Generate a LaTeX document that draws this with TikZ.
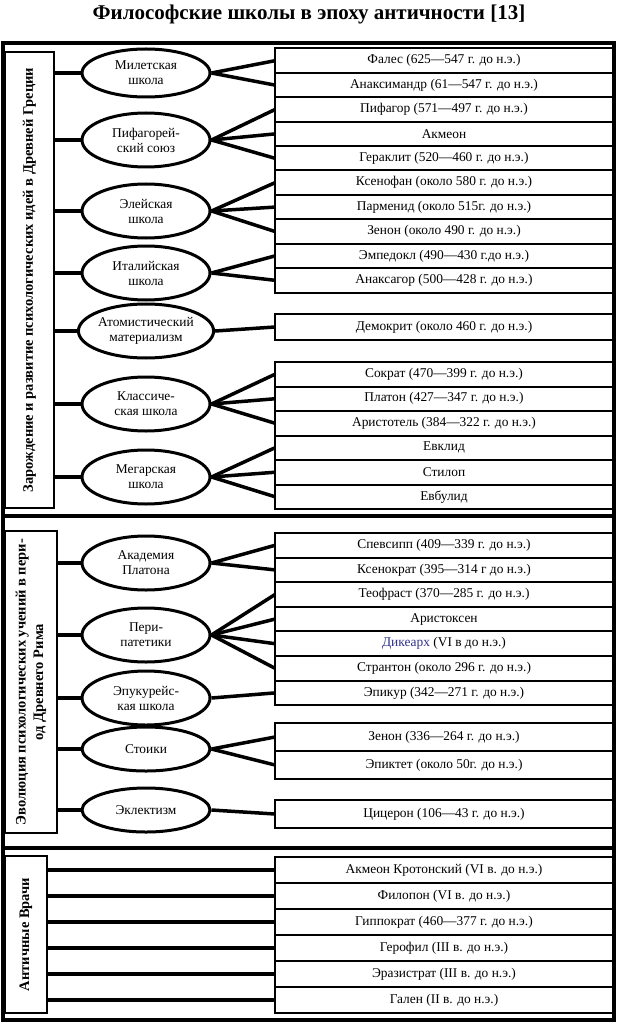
\documentclass[tikz,border=0pt]{standalone}
\usepackage{fontspec}
\setmainfont{Liberation Serif}
\usetikzlibrary{positioning,shapes.geometric}
\definecolor{dikblue}{RGB}{48,48,140}

\begin{document}
\begin{tikzpicture}[
  x=1pt,y=-1pt,
  font=\fontsize{13.4}{15}\selectfont,
  tableframe/.style={draw=black,line width=3.5pt},
  side/.style={draw=black,line width=2pt,rotate=90,align=center,font=\bfseries\fontsize{14.5}{17.5}\selectfont,inner sep=2pt,outer sep=0pt},
  school/.style={draw=black,ellipse,line width=3pt,minimum width=128pt,minimum height=54pt,align=center,inner sep=0pt},
  person/.style={draw=black,line width=2pt,minimum width=338pt,minimum height=24.4pt,inner sep=0pt,outer sep=0pt},
  link/.style={line width=3.5pt}
]
\useasboundingbox (0,0) rectangle (618,1024);
\node[font=\bfseries\fontsize{21}{25}\selectfont] (title) at (309,14) {Философские школы в эпоху античности [13]};
\draw[tableframe] (3,43) rectangle (614,1020);
\draw[tableframe] (3,516) -- (614,516);
\draw[tableframe] (3,848) -- (614,848);

\node[side,minimum width=456pt,minimum height=49pt] (greece) at (29.5,280) {Зарождение и развитие психологических идей в Древней Греции};
\node[side,minimum width=302pt,minimum height=52pt] (rome) at (31,682) {Эволюция психологических учений в пери-\\од Древнего Рима};
\node[side,minimum width=157pt,minimum height=42pt] (doctors) at (26,934.5) {Античные Врачи};

\node[school,minimum height=48pt] (milet) at (146,73) {Милетская\\школа};
\node[school] (pyth) at (146,140) {Пифагорей-\\ский союз};
\node[school] (elea) at (146,211) {Элейская\\школа};
\node[school] (ital) at (146,273) {Италийская\\школа};
\node[school] (atom) at (146,331) {Атомистический\\материализм};
\node[school] (klass) at (146,404) {Классиче-\\ская школа};
\node[school] (megar) at (146,477) {Мегарская\\школа};
\node[school] (acad) at (146,563) {Академия\\Платона};
\node[school] (peri) at (146,635) {Пери-\\патетики};
\node[school] (epic) at (146,698) {Эпукурейс-\\кая школа};
\node[school,minimum height=44pt] (stoic) at (146,749) {Стоики};
\node[school,minimum height=44pt] (eklek) at (146,810) {Эклектизм};

\node[person,anchor=north west] (fales) at (275,48.5) {Фалес (625—547 г. до н.э.)};
\node[person,below=0pt of fales] (anaximandr) {Анаксимандр (61—547 г. до н.э.)};
\node[person,below=0pt of anaximandr] (pifagor) {Пифагор (571—497 г. до н.э.)};
\node[person,below=0pt of pifagor] (akmeon) {Акмеон};
\node[person,below=0pt of akmeon] (geraklit) {Гераклит (520—460 г. до н.э.)};
\node[person,below=0pt of geraklit] (ksenofan) {Ксенофан (около 580 г. до н.э.)};
\node[person,below=0pt of ksenofan] (parmenid) {Парменид (около 515г. до н.э.)};
\node[person,below=0pt of parmenid] (zenon) {Зенон (около 490 г. до н.э.)};
\node[person,below=0pt of zenon] (empedokl) {Эмпедокл (490—430 г.до н.э.)};
\node[person,below=0pt of empedokl] (anaksagor) {Анаксагор (500—428 г. до н.э.)};

\node[person,anchor=north west,minimum height=26pt] (demokrit) at (275,314) {Демокрит (около 460 г. до н.э.)};

\node[person,anchor=north west,minimum height=24.5pt] (sokrat) at (275,362) {Сократ (470—399 г. до н.э.)};
\node[person,minimum height=24.5pt,below=0pt of sokrat] (platon) {Платон (427—347 г. до н.э.)};
\node[person,minimum height=24.5pt,below=0pt of platon] (aristotel) {Аристотель (384—322 г. до н.э.)};
\node[person,minimum height=24.5pt,below=0pt of aristotel] (evklid) {Евклид};
\node[person,minimum height=24.5pt,below=0pt of evklid] (stilop) {Стилоп};
\node[person,minimum height=24.5pt,below=0pt of stilop] (evbulid) {Евбулид};

\node[person,anchor=north west,minimum height=24.6pt] (spevsipp) at (275,533) {Спевсипп (409—339 г. до н.э.)};
\node[person,minimum height=24.6pt,below=0pt of spevsipp] (ksenokrat) {Ксенократ (395—314 г до н.э.)};
\node[person,minimum height=24.6pt,below=0pt of ksenokrat] (teofrast) {Теофраст (370—285 г. до н.э.)};
\node[person,minimum height=24.6pt,below=0pt of teofrast] (aristoksen) {Аристоксен};
\node[person,minimum height=24.6pt,below=0pt of aristoksen] (dikearh) {\textcolor{dikblue}{Дикеарх} (VI в до н.э.)};
\node[person,minimum height=24.6pt,below=0pt of dikearh] (stranton) {Странтон (около 296 г. до н.э.)};
\node[person,minimum height=24.6pt,below=0pt of stranton] (epikur) {Эпикур (342—271 г. до н.э.)};

\node[person,anchor=north west,minimum height=28pt] (zenonst) at (275,723) {Зенон (336—264 г. до н.э.)};
\node[person,minimum height=28pt,below=0pt of zenonst] (epiktet) {Эпиктет (около 50г. до н.э.)};

\node[person,anchor=north west,minimum height=28pt] (ciceron) at (275,800) {Цицерон (106—43 г. до н.э.)};

\node[person,anchor=north west,minimum height=26pt] (akmeonkr) at (275,857) {Акмеон Кротонский (VI в. до н.э.)};
\node[person,minimum height=26pt,below=0pt of akmeonkr] (filopon) {Филопон (VI в. до н.э.)};
\node[person,minimum height=26pt,below=0pt of filopon] (gippokrat) {Гиппократ (460—377 г. до н.э.)};
\node[person,minimum height=26pt,below=0pt of gippokrat] (gerofil) {Герофил (III в. до н.э.)};
\node[person,minimum height=26pt,below=0pt of gerofil] (erazistrat) {Эразистрат (III в. до н.э.)};
\node[person,minimum height=26pt,below=0pt of erazistrat] (galen) {Гален (II в. до н.э.)};

\draw[link] (milet.west -| greece.south) -- (milet.west);
\draw[link] (pyth.west -| greece.south) -- (pyth.west);
\draw[link] (elea.west -| greece.south) -- (elea.west);
\draw[link] (ital.west -| greece.south) -- (ital.west);
\draw[link] (atom.west -| greece.south) -- (atom.west);
\draw[link] (klass.west -| greece.south) -- (klass.west);
\draw[link] (megar.west -| greece.south) -- (megar.west);
\draw[link] (acad.west -| rome.south) -- (acad.west);
\draw[link] (peri.west -| rome.south) -- (peri.west);
\draw[link] (epic.west -| rome.south) -- (epic.west);
\draw[link] (stoic.west -| rome.south) -- (stoic.west);
\draw[link] (eklek.west -| rome.south) -- (eklek.west);

\draw[link] (milet.east) -- (fales.west);
\draw[link] (milet.east) -- (anaximandr.west);
\draw[link] (pyth.east) -- (pifagor.west);
\draw[link] (pyth.east) -- (akmeon.west);
\draw[link] (pyth.east) -- (geraklit.west);
\draw[link] (elea.east) -- (ksenofan.west);
\draw[link] (elea.east) -- (parmenid.west);
\draw[link] (elea.east) -- (zenon.west);
\draw[link] (ital.east) -- (empedokl.west);
\draw[link] (ital.east) -- (anaksagor.west);
\draw[link] (atom.east) -- (demokrit.west);
\draw[link] (klass.east) -- (sokrat.west);
\draw[link] (klass.east) -- (platon.west);
\draw[link] (klass.east) -- (aristotel.west);
\draw[link] (megar.east) -- (evklid.west);
\draw[link] (megar.east) -- (stilop.west);
\draw[link] (megar.east) -- (evbulid.west);
\draw[link] (acad.east) -- (spevsipp.west);
\draw[link] (acad.east) -- (ksenokrat.west);
\draw[link] (peri.east) -- (teofrast.west);
\draw[link] (peri.east) -- (aristoksen.west);
\draw[link] (peri.east) -- (dikearh.west);
\draw[link] (peri.east) -- (stranton.west);
\draw[link] (epic.east) -- (epikur.west);
\draw[link] (stoic.east) -- (zenonst.west);
\draw[link] (stoic.east) -- (epiktet.west);
\draw[link] (eklek.east) -- (ciceron.west);

\draw[link] (akmeonkr.west -| doctors.south) -- (akmeonkr.west);
\draw[link] (filopon.west -| doctors.south) -- (filopon.west);
\draw[link] (gippokrat.west -| doctors.south) -- (gippokrat.west);
\draw[link] (gerofil.west -| doctors.south) -- (gerofil.west);
\draw[link] (erazistrat.west -| doctors.south) -- (erazistrat.west);
\draw[link] (galen.west -| doctors.south) -- (galen.west);
\end{tikzpicture}
\end{document}
